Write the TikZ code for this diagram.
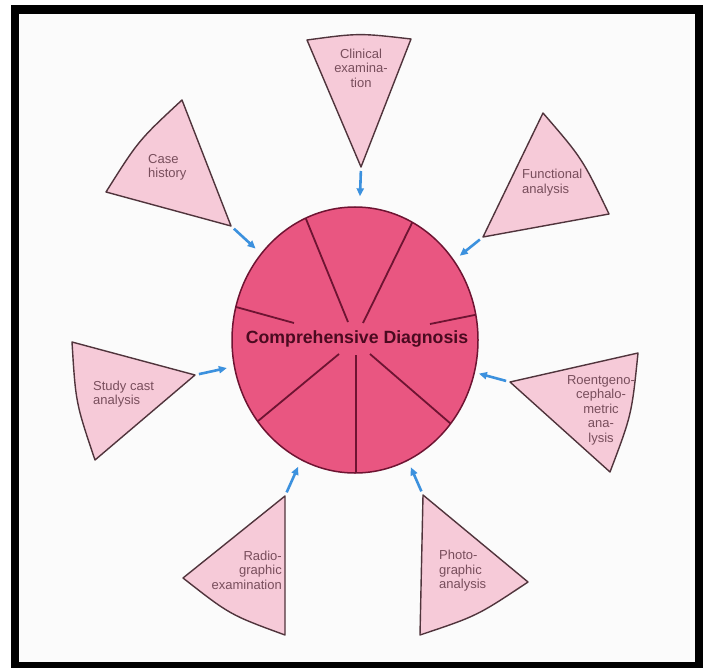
\documentclass[tikz,border=0pt]{standalone}
\usepackage{fontspec}
\setmainfont{Liberation Sans}
\usetikzlibrary{arrows.meta,shapes.geometric}
\definecolor{bgc}{RGB}{251,251,251}
\definecolor{wfill}{RGB}{246,202,216}
\definecolor{wline}{RGB}{80,52,60}
\definecolor{wtext}{RGB}{120,78,92}
\definecolor{cfill}{RGB}{233,86,129}
\definecolor{cline}{RGB}{110,20,50}
\definecolor{ctext}{RGB}{75,10,32}
\definecolor{arrc}{RGB}{60,145,222}
\begin{document}
\begin{tikzpicture}[x=1pt,y=-1pt,
  wedge/.style={fill=wfill,draw=wline,line width=1.4pt,line join=round},
  wtxt/.style={text=wtext,font=\fontsize{13}{14.5}\selectfont,inner sep=0pt},
  divider/.style={draw=cline,line width=1.8pt},
  arr/.style={draw=arrc,line width=2.6pt,-{Triangle[length=8pt,width=7pt]},shorten <=4pt,shorten >=7pt}]
\useasboundingbox (0,0) rectangle (706,668);
\fill[white] (0,0) rectangle (706,668);
\fill[black] (11,5) rectangle (703,668);
\fill[bgc] (19,14) rectangle (695,662);
% wedges
\coordinate (a1) at (361,167);
\coordinate (a2) at (231,226);
\coordinate (a3) at (483,237);
\coordinate (a4) at (195,375);
\coordinate (a5) at (510,382);
\coordinate (a6) at (285,496);
\coordinate (a7) at (423,495);
\draw[wedge] (a1) -- (307,40) .. controls (359,33) .. (411,39) -- cycle;
\draw[wedge] (a2) -- (182,100) .. controls (138.5,140.4) .. (106,192) -- cycle;
\draw[wedge] (a3) -- (543,113) .. controls (582.3,158.5) .. (609,214) -- cycle;
\draw[wedge] (a4) -- (72,342) .. controls (75.7,402.8) .. (95,460) -- cycle;
\draw[wedge] (a5) -- (638,353) .. controls (631.7,414.6) .. (610,472) -- cycle;
\draw[wedge] (a6) -- (183,578) .. controls (230.1,614.9) .. (285,635) -- cycle;
\draw[wedge] (a7) -- (528,582) .. controls (477.3,615.8) .. (420,635) -- cycle;
% circle
\node[ellipse,draw=cline,line width=1.5pt,fill=cfill,minimum width=246pt,minimum height=266pt,inner sep=0pt] (dx) at (355,340) {};
\begin{scope}
\clip (355,340) ellipse [x radius=123, y radius=133];
\draw[divider] (348,322) -- (301.1,206.9);
\draw[divider] (363,323) -- (417.7,211.3);
\draw[divider] (294,323) -- (224.1,303.7);
\draw[divider] (430,324) -- (487,312.5);
\draw[divider] (339,354) -- (248.3,429.1);
\draw[divider] (356,355) -- (356.1,485.2);
\draw[divider] (370,354) -- (459.5,431.3);
\end{scope}
\node[text=ctext,font=\bfseries\fontsize{17.7}{20}\selectfont,inner sep=0pt,anchor=base] (dxt) at (357,343) {Comprehensive Diagnosis};
% arrows
\draw[arr,shorten >=10pt] (a1) -- (dx);
\draw[arr] (a2) -- (dx);
\draw[arr] (a3) -- (dx);
\draw[arr] (a4) -- (dx);
\draw[arr,shorten >=4pt] (a5) -- (dx);
\draw[arr] (a6) -- (dx);
\draw[arr] (a7) -- (dx);
% labels
\node[wtxt,align=center] (t1) at (361,68) {Clinical\\examina-\\tion};
\node[wtxt,align=left,anchor=west] (t2) at (148,167.5) {Case\\history};
\node[wtxt,align=left,anchor=west] (t3) at (522,182.5) {Functional\\analysis};
\node[wtxt,align=left,anchor=west] (t4) at (93,394) {Study cast\\analysis};
\node[wtxt,align=center] (t5) at (601,410) {Roentgeno-\\cephalo-\\metric\\ana-\\lysis};
\node[wtxt,align=right,anchor=east] (t6) at (282,570) {Radio-\\graphic\\examination};
\node[wtxt,align=left,anchor=west] (t7) at (439,571) {Photo-\\graphic\\analysis};
\end{tikzpicture}
\end{document}
